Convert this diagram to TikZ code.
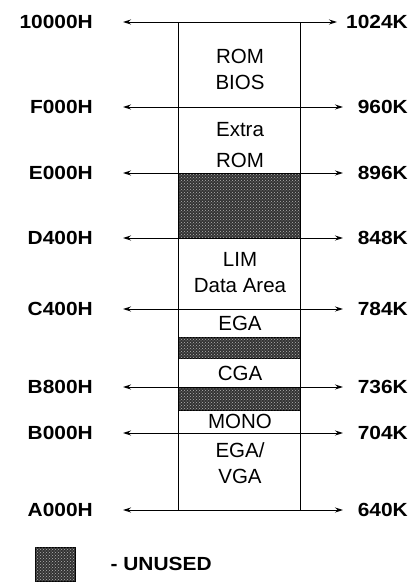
\documentclass[tikz,border=0pt]{standalone}
\usepackage{fontspec}
\setmainfont{Liberation Sans}
\newfontfamily\addrfont[FakeStretch=1.1]{Liberation Sans}
\usetikzlibrary{arrows.meta, positioning, patterns}
\tikzset{
  addr/.style={font=\addrfont\bfseries\fontsize{19}{21}\selectfont, inner sep=0pt},
  leftaddr/.style={addr, anchor=east},
  rightaddr/.style={addr, anchor=east},
  level/.style={{Stealth[length=8pt,width=5pt]}-{Stealth[length=8pt,width=5pt]}, line width=0.9pt},
  region/.style={font=\fontsize{20.5}{26}\selectfont, align=center, inner sep=0pt},
  unused/.style={draw, line width=0.9pt, fill=black!80,
                 postaction={pattern=crosshatch dots, pattern color=gray!60}},
}

\begin{document}
\begin{tikzpicture}[x=1pt, y=-1pt]
  \useasboundingbox (0,0) rectangle (412,584);

  % unused areas
  \draw[unused] (178,173) rectangle (300,238);
  \draw[unused] (178,337) rectangle (300,358);
  \draw[unused] (178,387) rectangle (300,410);

  % address levels
  \foreach \y/\hex/\dec/\tip/\name in {22/10000H/1024K/337/a, 107/F000H/960K/343/b,
      173/E000H/896K/343/c, 238/D400H/848K/343/d, 309/C400H/784K/343/e,
      387/B800H/736K/343/f, 433/B000H/704K/343/g, 510/A000H/640K/343/h} {
    \coordinate (\name l) at (123,\y);
    \coordinate (\name r) at (\tip,\y);
    \node[leftaddr] (\name hex) at (93,\y) {\hex};
    \node[rightaddr] (\name dec) at (408,\y) {\dec};
    \draw[level] (\name l) -- (\name r);
  }

  % memory column
  \draw[line width=0.9pt] (178,22) rectangle (300,510);

  \node[region] (rombios) at (240,69) {ROM\\BIOS};
  \node[region] (extrarom) at (240,145) {Extra\\[5pt]ROM};
  \node[region] (lim) at (240,273) {LIM\\Data Area};
  \node[region] (ega) at (240,323) {EGA};
  \node[region] (cga) at (240,373) {CGA};
  \node[region] (mono) at (240,421) {MONO};
  \node[region] (vga) at (240,463) {EGA/\\VGA};

  % legend
  \node[unused, minimum width=40pt, minimum height=34pt, inner sep=0pt] (key) at (55,564) {};
  \node[addr, right=35pt of key] (keytext) {- UNUSED};
\end{tikzpicture}
\end{document}
